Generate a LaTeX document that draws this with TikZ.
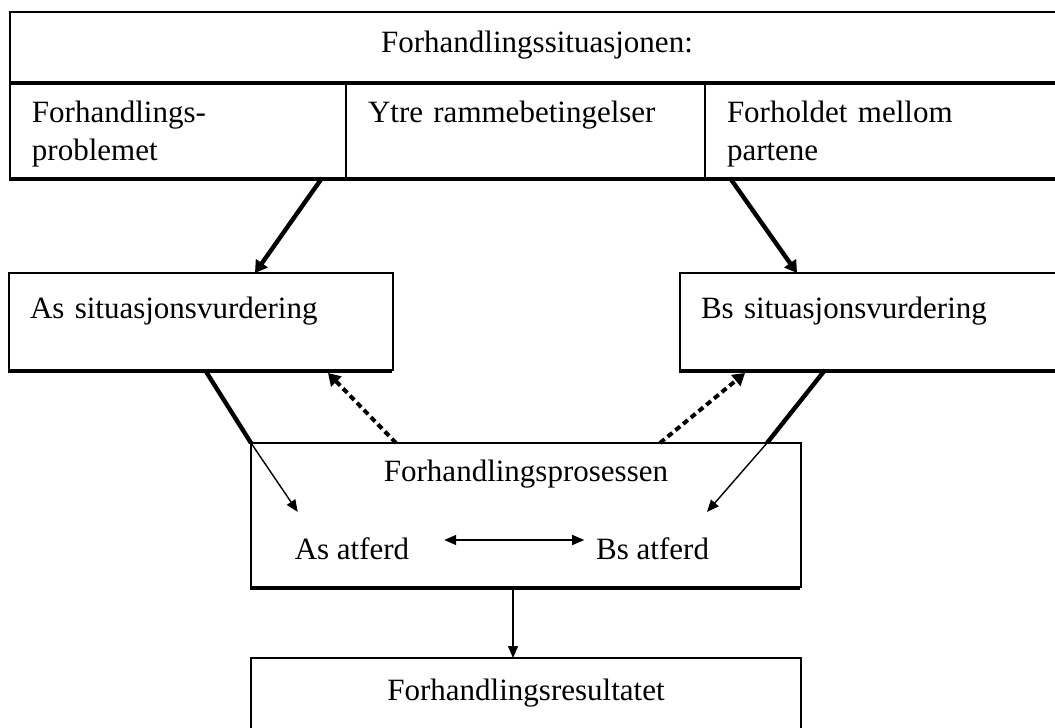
\documentclass[tikz,border=0pt]{standalone}
\usepackage{fontspec}
\setmainfont{Liberation Serif}
\usetikzlibrary{arrows.meta, positioning, shadows}

\begin{document}
\begin{tikzpicture}[x=0.5pt, y=-0.5pt,
    font=\fontsize{15.5}{19}\selectfont,
    every node/.style={outer sep=0pt},
    box/.style={draw, line width=0.7pt, fill=white, inner ysep=0pt,
        drop shadow={shadow xshift=-0.6pt, shadow yshift=-1.6pt, fill=black, opacity=1}},
    cell/.style={box, text width=#1, align=left, inner xsep=11pt,
        text height=20pt, text depth=28pt},
    vurd/.style={box, text width=171pt, align=left, inner xsep=10.5pt,
        text height=22.5pt, text depth=26pt},
    atf/.style={inner sep=3pt},
    heavy/.style={line width=2.2pt, -{Triangle[length=6pt,width=7pt]}},
    heavyline/.style={line width=2.2pt},
    feedback/.style={line width=2pt, dash pattern=on 3pt off 2pt,
        -{Triangle[length=6pt,width=7pt]}},
    thin/.style={line width=0.7pt, -{Triangle[length=6pt,width=5pt]}}]

    \useasboundingbox (0,0) rectangle (1055,728);

    % situasjonen
    \node[cell=146pt, anchor=north west] (prob) at (10,82) {Forhandlings-\\problemet};
    \node[cell=157.5pt, right=0pt of prob]  (ytre) {Ytre rammebetingelser};
    \node[cell=158pt, right=0pt of ytre]    (forh) {Forholdet mellom\\partene};
    \node[box, text width=527pt, align=center, inner xsep=0pt,
        text height=20.5pt, text depth=14.5pt, anchor=south west]
        (sit) at (prob.north west) {Forhandlingssituasjonen:};

    % vurderinger
    \node[vurd, anchor=north west] (asv) at (9,273) {As situasjonsvurdering};
    \node[vurd, right=143.5pt of asv] (bsv) {Bs situasjonsvurdering};

    % prosess og resultat
    \node[box, text width=275pt, align=center, inner xsep=0pt,
        text height=19pt, text depth=53pt, anchor=north west]
        (pros) at (251,443) {Forhandlingsprosessen};
    \node[atf] (asatf) at (352,549) {As atferd};
    \node[atf, right=87.5pt of asatf] (bsatf) {Bs atferd};
    \node[box, text width=275pt, align=center, inner xsep=0pt,
        text height=21pt, text depth=29pt, below=35.5pt of pros]
        (res) {Forhandlingsresultatet};

    \coordinate (lbend) at (pros.north west);
    \coordinate (rbend) at ([xshift=-17pt]pros.north east);

    \draw[heavy] ([xshift=-12pt]prob.south east) -- ([xshift=27pt]asv.north);
    \draw[heavy] ([xshift=12.5pt]forh.south west) -- ([xshift=58.5pt]bsv.north west);

    \draw[heavyline] ([xshift=2pt]asv.south) -- (lbend);
    \draw[thin] (lbend) -- ([shift={(4.5pt,10pt)}]asatf.north west);
    \draw[heavyline] ([xshift=72.5pt]bsv.south west) -- (rbend);
    \draw[thin] (rbend) -- ([shift={(-4pt,10pt)}]bsatf.north east);

    \draw[feedback] ([xshift=-65pt]pros.north) -- ([xshift=-32.5pt,yshift=-1.5pt]asv.south east);
    \draw[feedback] ([xshift=67pt]pros.north) -- ([xshift=32.5pt,yshift=-1.5pt]bsv.south west);

    \draw[thin, {Triangle[length=6pt,width=5pt]}-{Triangle[length=6pt,width=5pt]},
        shorten <=14.5pt, shorten >=3pt]
        ([yshift=4.5pt]asatf.east) -- ([yshift=4.5pt]bsatf.west);
    \draw[thin] ([xshift=-6.5pt]pros.south) -- ([xshift=-6.5pt]res.north);
\end{tikzpicture}
\end{document}
